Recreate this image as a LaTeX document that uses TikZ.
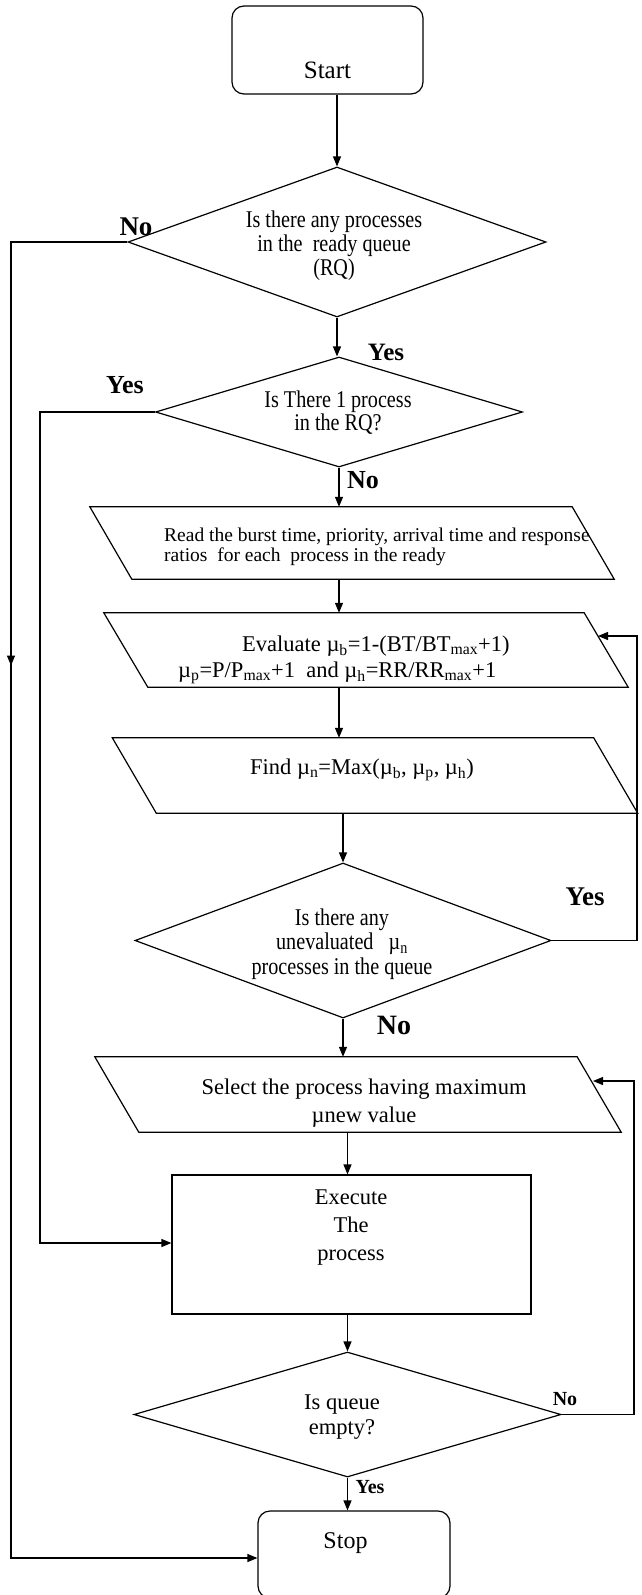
\documentclass[tikz,border=0pt]{standalone}
\usepackage{fontspec}
\setmainfont{Liberation Serif}
\newfontfamily\condfont{Liberation Serif}[FakeStretch=0.84]
\usetikzlibrary{shapes.geometric,arrows.meta,decorations.markings,calc}
\newcommand\paradraw[2]{\draw[ln] ([xshift=-#2pt]#1.north west) -- ([xshift=-#2pt]#1.north east) -- ([xshift=#2pt]#1.south east) -- ([xshift=#2pt]#1.south west) -- cycle;}
\tikzset{
 ln/.style={line width=1.2pt, draw=black},
 arr/.style={ln, -{Triangle[length=10pt,width=8pt]}},
 term/.style={ln, rounded corners=12pt, inner sep=0},
 dec/.style={ln, diamond, inner sep=0},
 box/.style={draw=none, inner sep=0},
 txt/.style={inner sep=0, align=center},
 lbl/.style={inner sep=0},
}
\begin{document}
\begin{tikzpicture}[x=1pt,y=-1pt]
\fill[white] (0,0) rectangle (641,1595);
\useasboundingbox (0,0) rectangle (641,1595);

% shapes
\node[term, minimum width=191pt, minimum height=88pt] (start) at (327.5,50) {};
\node[txt, font=\fontsize{25}{25}\selectfont] (startt) at (327.5,70) {Start};

\node[dec, minimum width=418pt, minimum height=150pt] (d1) at (337,242) {};
\node[txt, font=\condfont\fontsize{24}{24}\selectfont] (d1t) at (334,246) {Is there any processes\\in the\ \ ready queue\\(RQ)};

\node[dec, minimum width=367pt, minimum height=110pt] (d2) at (339,412) {};
\node[txt, font=\condfont\fontsize{24}{23}\selectfont] (d2t) at (338,413) {Is There 1 process\\in the RQ?};

\node[box, minimum width=482pt, minimum height=72pt] (p1) at (352,543) {};
\paradraw{p1}{21}
\node[txt, anchor=west, align=left, font=\fontsize{19.5}{20}\selectfont] (p1t) at (164,547) {Read the burst time, priority, arrival time and response\\ratios\ \ for each\ \ process in the ready};

\node[box, minimum width=480pt, minimum height=74pt] (p2) at (366,650) {};
\paradraw{p2}{22}
\node[txt, anchor=west, align=left, font=\fontsize{22.5}{26}\selectfont] (p2t) at (178,660) {\hspace*{64pt}Evaluate µ\textsubscript{b}=1-(BT/BT\textsubscript{max}+1)\\µ\textsubscript{p}=P/P\textsubscript{max}+1\ \ and µ\textsubscript{h}=RR/RR\textsubscript{max}+1};

\node[box, minimum width=481pt, minimum height=75pt] (p3) at (375,775.5) {};
\paradraw{p3}{22}
\node[txt, font=\fontsize{22.5}{26}\selectfont] (p3t) at (362,770) {Find µ\textsubscript{n}=Max(µ\textsubscript{b}, µ\textsubscript{p}, µ\textsubscript{h})};

\node[dec, minimum width=416pt, minimum height=155pt] (d3) at (343,940.5) {};
\node[txt, font=\condfont\fontsize{24}{24.5}\selectfont] (d3t) at (342,944) {Is there any\\unevaluated\ \ \ µ\textsubscript{n}\\processes in the queue};

\node[box, minimum width=482pt, minimum height=75pt] (sel) at (358,1094.5) {};
\paradraw{sel}{22}
\node[txt, font=\fontsize{22.5}{28}\selectfont] (selt) at (364,1103) {Select the process having maximum\\µnew value};

\node[ln, rectangle, inner sep=0, minimum width=359pt, minimum height=139pt] (exec) at (351.5,1244.5) {};
\node[txt, font=\fontsize{22.5}{28}\selectfont] (exect) at (351,1228) {Execute\\The\\process};

\node[dec, minimum width=427pt, minimum height=125pt] (d4) at (347.5,1414.5) {};
\node[txt, font=\fontsize{22.5}{25}\selectfont] (d4t) at (342,1417) {Is queue\\empty?};

\node[term, minimum width=192pt, minimum height=87pt] (stop) at (354,1554.5) {};
\node[txt, font=\fontsize{24}{24}\selectfont] (stopt) at (345.5,1543) {Stop};

% main flow
\draw[arr] (start.south -| d1.north) -- (d1.north);
\draw[arr] (d1.south) -- (d1.south |- d2.north);
\draw[arr] (d2.south) -- (d2.south |- p1.north);
\draw[arr] (p1.south -| d2.south) -- (p2.north -| d2.south);
\draw[arr] (p2.south -| d2.south) -- (p3.north -| d2.south);
\draw[arr] (p3.south -| d3.north) -- (d3.north);
\draw[arr] (d3.south) -- (d3.south |- sel.north);
\draw[arr] (sel.south -| d4.north) -- (exec.north -| d4.north);
\draw[arr] (exec.south -| d4.north) -- (d4.north);
\draw[arr] (d4.south) -- (d4.south |- stop.north);

% loops
\coordinate (lp1) at (637,636);
\coordinate (p2in) at (598,636);
\draw[arr] (d3.east) -| (lp1) -- (p2in);
\coordinate (lp2) at (634,1081);
\coordinate (selin) at (593,1081);
\draw[arr] (d4.east) -| (lp2) -- (selin);
\coordinate (lyes) at (40,1243);
\draw[arr] (d2.west) -| (lyes) -- (exec.west |- lyes);
\coordinate (lno) at (11,1558);
\draw[arr, postaction={decorate}, decoration={markings, mark=at position 540pt with {\arrow{Triangle[length=10pt,width=8pt]}}}] (d1.west) -| (lno) -- (stop.west |- lno);

% labels
\node[lbl, font=\bfseries\fontsize{27}{27}\selectfont] (l1) at (136,227) {No};
\node[lbl, font=\bfseries\fontsize{25}{25}\selectfont] (l2) at (386,352) {Yes};
\node[lbl, font=\bfseries\fontsize{26}{26}\selectfont] (l3) at (125,385) {Yes};
\node[lbl, font=\bfseries\fontsize{26}{26}\selectfont] (l4) at (363,480) {No};
\node[lbl, font=\bfseries\fontsize{27}{27}\selectfont] (l5) at (585,897) {Yes};
\node[lbl, font=\bfseries\fontsize{28}{28}\selectfont] (l6) at (394,1025) {No};
\node[lbl, font=\bfseries\fontsize{20}{20}\selectfont] (l7) at (565,1399) {No};
\node[lbl, font=\bfseries\fontsize{20}{20}\selectfont] (l8) at (370,1487) {Yes};
\end{tikzpicture}
\end{document}
